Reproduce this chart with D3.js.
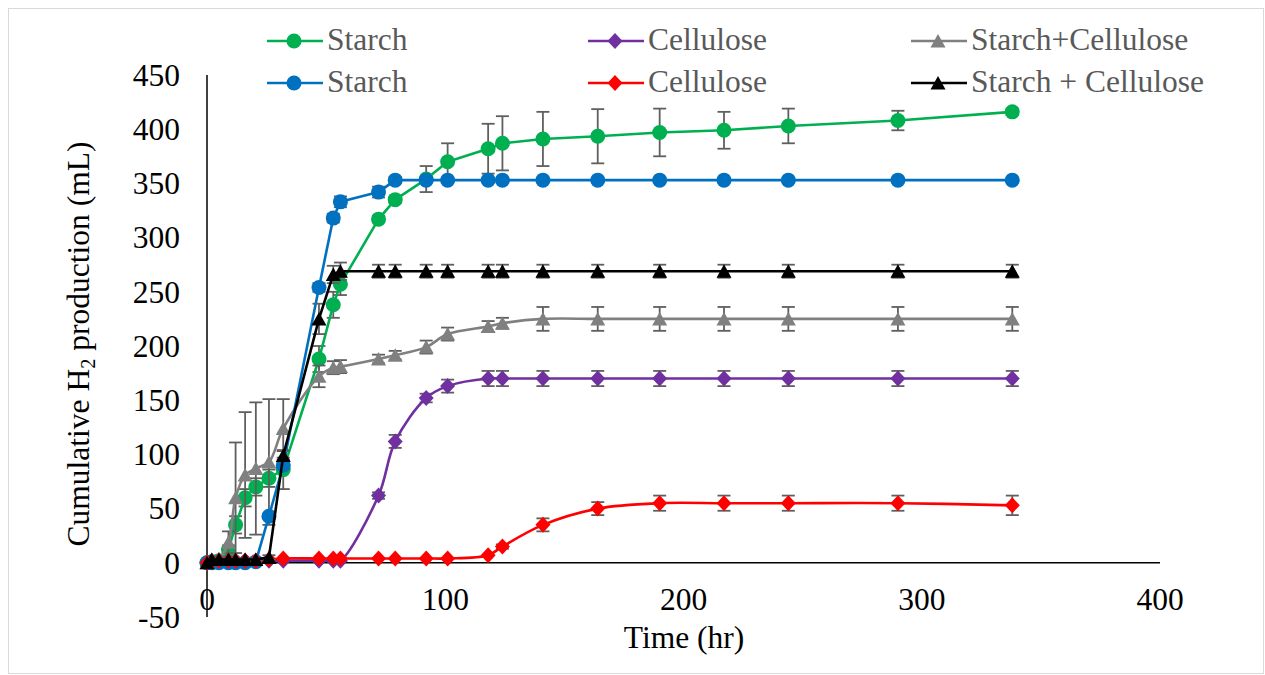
<!DOCTYPE html>
<html>
<head>
<meta charset="utf-8">
<script src="https://cdn.jsdelivr.net/npm/d3@7"></script>
<style>
  html, body { margin: 0; padding: 0; background: #fff; }
  svg text { font-family: "Liberation Serif", "DejaVu Serif", "Times New Roman", Times, serif; }
</style>
</head>
<body>
<svg id="chart" width="1265" height="675"></svg>
<script>
// ---- data (hours and cumulative H2 in mL) ----
const hours = [0, 2, 5, 9, 12, 16, 20.5, 26, 32, 47, 53, 56, 72, 79, 92, 101, 118, 124, 141, 164, 190, 217, 244, 290, 338];

const starchA      = [0, 1, 2, 12, 35, 60, 70, 78, 86, 188, 238, 257, 317, 335, 354, 370, 382, 387, 391, 393.5, 397, 399, 403, 408, 416];
const starchAErr   = [0, 0, 1, 4, 8, 8, 8, 8, 18, 12, 12, 10, 3, 3, 12, 17, 23, 25, 25, 25, 22, 17, 16, 9, 3];
const celluloseA   = [0, 2, 2, 2, 2, 2, 2, 2, 2, 2, 2, 2, 62, 112, 152, 163, 170, 170, 170, 170, 170, 170, 170, 170, 170];
const celluloseAErr= [0, 0, 0, 0, 0, 0, 0, 0, 0, 0, 0, 0, 3, 6, 4, 6, 7, 7, 7, 7, 7, 7, 7, 7, 7];
const mixA         = [0, 2, 4, 19, 60, 81, 87, 93, 124, 172, 180, 181, 188, 191.5, 199, 211, 218, 221, 225, 225, 225, 225, 225, 225, 225];
const mixAErr      = [0, 0, 1, 10, 51, 58, 61, 58, 27, 10, 6, 6, 4, 4, 6, 6, 5, 5, 11, 11, 11, 11, 11, 11, 11];
const starchB      = [0, 0, 0, 0, 0, 0, 1, 43, 90, 254, 318, 333, 342, 353, 353, 353, 353, 353, 353, 353, 353, 353, 353, 353, 353];
const starchBErr   = [0, 0, 0, 0, 0, 0, 0, 2, 3, 4, 4, 5, 5, 3, 2, 2, 2, 2, 2, 2, 2, 2, 2, 2, 2];
const celluloseB   = [0, 1, 2, 2, 2, 2, 2, 3, 4, 4, 4, 4, 4, 4, 4, 4, 7, 15, 35, 50, 55, 55, 55, 55, 53];
const celluloseBErr= [0, 0, 0, 0, 0, 0, 0, 0, 0, 0, 0, 0, 0, 0, 0, 0, 0, 2, 6, 6, 7, 7, 7, 7, 9];
const mixB         = [0, 3, 3, 3, 3, 3, 3, 5, 99, 225, 266, 269, 269, 269, 269, 269, 269, 269, 269, 269, 269, 269, 269, 269, 269];
const mixBErr      = [0, 1, 1, 1, 1, 1, 1, 2, 4, 14, 8, 8, 6, 6, 6, 6, 6, 6, 6, 6, 6, 6, 6, 6, 6];

const seriesNames  = ["Starch", "Cellulose", "Starch+Cellulose", "Starch", "Cellulose", "Starch + Cellulose"];
const seriesColors = ["#00B050", "#7030A0", "#808080", "#0070C0", "#FF0000", "#000000"];
const seriesMarkers= ["circle", "diamond", "triangle", "circle", "diamond", "triangle"];
const seriesSmooth = [false, true, true, false, true, false];
const seriesValues = [starchA, celluloseA, mixA, starchB, celluloseB, mixB];
const seriesErrors = [starchAErr, celluloseAErr, mixAErr, starchBErr, celluloseBErr, mixBErr];

const xTicks = [0, 100, 200, 300, 400];
const yTicks = [-50, 0, 50, 100, 150, 200, 250, 300, 350, 400, 450];

// ---- layout ----
const FONT = '"Liberation Serif", "DejaVu Serif", "Times New Roman", Times, serif';
const svg = d3.select("#chart");
const x = d3.scaleLinear().domain([0, 400]).range([207, 1160]);
const y = d3.scaleLinear().domain([-50, 450]).range([617, 75]);
const FS = 31.5;

// chart border
svg.append("rect").attr("x", 8.5).attr("y", 8.5).attr("width", 1255).attr("height", 665)
  .attr("fill", "#fff").attr("stroke", "#d9d9d9").attr("stroke-width", 1);

// axes lines
svg.append("line").attr("x1", x(0)).attr("x2", x(0)).attr("y1", y(450)).attr("y2", y(-50))
  .attr("stroke", "#000").attr("stroke-width", 1.5);
svg.append("line").attr("x1", x(0)).attr("x2", x(400)).attr("y1", y(0)).attr("y2", y(0))
  .attr("stroke", "#000").attr("stroke-width", 1.5);

// tick labels
svg.append("g").selectAll("text").data(yTicks).join("text")
  .attr("font-family", FONT)
  .attr("x", 180).attr("y", d => y(d)).attr("dy", "0.34em")
  .attr("text-anchor", "end").attr("font-size", FS).attr("fill", "#000")
  .text(d => d);
svg.append("g").selectAll("text").data(xTicks).join("text")
  .attr("font-family", FONT)
  .attr("x", d => x(d)).attr("y", 610)
  .attr("text-anchor", "middle").attr("font-size", FS).attr("fill", "#000")
  .text(d => d);

// axis titles
svg.append("text").attr("font-family", FONT).attr("x", 684).attr("y", 648).attr("text-anchor", "middle")
  .attr("font-size", FS).attr("fill", "#000").text("Time (hr)");
const yt = svg.append("text").attr("font-family", FONT).attr("transform", "translate(89,344) rotate(-90)")
  .attr("text-anchor", "middle").attr("font-size", FS).attr("fill", "#000");
yt.append("tspan").text("Cumulative H");
yt.append("tspan").attr("font-size", FS * 0.65).attr("dy", 6).text("2");
yt.append("tspan").attr("dy", -6).text(" production (mL)");

// marker path generator
function markerPath(type) {
  if (type === "circle") return d3.symbol(d3.symbolCircle, Math.PI * 7.5 * 7.5)();
  if (type === "diamond") return "M0,-8L7.5,0L0,8L-7.5,0Z";
  return "M0,-7L7.5,6.5L-7.5,6.5Z";
}

// series
const plot = svg.append("g");
seriesValues.forEach((vals, i) => {
  const pts = hours.map((h, k) => ({ h, v: vals[k], e: seriesErrors[i][k] }));
  const g = plot.append("g");
  // error bars
  const eb = g.append("g").attr("stroke", "#5f5f5f").attr("stroke-width", 1.8).attr("fill", "none");
  pts.filter(p => p.e > 0).forEach(p => {
    const cx = x(p.h);
    eb.append("line").attr("x1", cx).attr("x2", cx).attr("y1", y(p.v + p.e)).attr("y2", y(p.v - p.e));
    eb.append("line").attr("x1", cx - 6.5).attr("x2", cx + 6.5).attr("y1", y(p.v + p.e)).attr("y2", y(p.v + p.e));
    eb.append("line").attr("x1", cx - 6.5).attr("x2", cx + 6.5).attr("y1", y(p.v - p.e)).attr("y2", y(p.v - p.e));
  });
  const line = d3.line().x(p => x(p.h)).y(p => y(p.v))
    .curve(seriesSmooth[i] ? d3.curveCatmullRom.alpha(0.5) : d3.curveLinear);
  g.append("path").datum(pts).attr("d", line).attr("fill", "none")
    .attr("stroke", seriesColors[i]).attr("stroke-width", 2.6).attr("stroke-linejoin", "round");
  g.append("g").selectAll("path").data(pts).join("path")
    .attr("transform", p => `translate(${x(p.h)},${y(p.v)})`)
    .attr("d", markerPath(seriesMarkers[i])).attr("fill", seriesColors[i]);
});

// legend
const legendCols = [267, 588, 911];
const legendRows = [41, 83];
seriesNames.forEach((name, i) => {
  const cx = legendCols[i % 3], cy = legendRows[Math.floor(i / 3)];
  const g = svg.append("g");
  g.append("line").attr("x1", cx).attr("x2", cx + 56).attr("y1", cy).attr("y2", cy)
    .attr("stroke", seriesColors[i]).attr("stroke-width", 2.6);
  g.append("path").attr("transform", `translate(${cx + 27},${cy})`)
    .attr("d", markerPath(seriesMarkers[i])).attr("fill", seriesColors[i]);
  g.append("text").attr("font-family", FONT).attr("x", cx + 60).attr("y", cy + 9).attr("font-size", FS)
    .attr("fill", "#595959").text(name);
});
</script>
</body>
</html>
